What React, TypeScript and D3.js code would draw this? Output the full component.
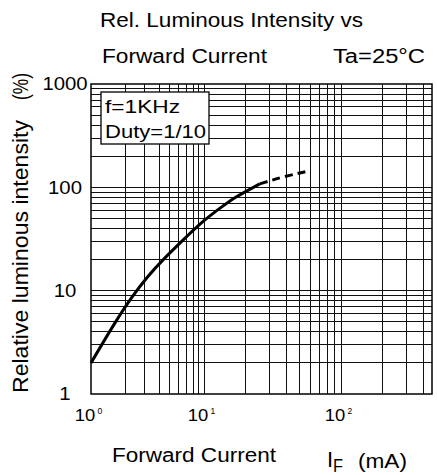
import React from 'react';
import * as d3 from 'd3';

// Relative luminous intensity (%) vs forward current (mA)
const currentSolid = [1, 1.63, 2.29, 3.21, 4.22, 6.79, 10, 14.2, 16.4, 22.9, 25.6];
const intensitySolid = [2, 4.94, 8.7, 14.0, 19.4, 32.2, 48.3, 68, 78.4, 100, 108];
const currentDashed = [25.6, 37.9, 59.4];
const intensityDashed = [108, 127, 145];

const xTickValues = [1, 10, 100];
const xTickExponents = ['0', '1', '2'];
const yTickValues = [1, 10, 100, 1000];
const yTickLabels = ['1', '10', '100', '1000'];
const noteLines = ['f=1KHz', 'Duty=1/10'];

const FONT = '"Liberation Sans", Arial, Helvetica, sans-serif';

const W = 437;
const H = 475;
const plot = { left: 91, top: 84, right: 432, bottom: 394 };

// the sheet's x decades are not even: the first one is squeezed
const xScale = d3
  .scaleLog()
  .domain([1, 10, 100, 461])
  .range([plot.left, 204, 341, plot.right]);

const yScale = d3.scaleLog().domain([1, 1000]).range([plot.bottom, plot.top]);

const decade = (d: number) => d3.range(1, 10).map((k) => k * d);
const xGrid = [...decade(1), ...decade(10), 100, 200, 300, 400].filter((v) => v > 1);
const yGrid = [...decade(1), ...decade(10), ...decade(100)].filter((v) => v > 1);

const line = d3
  .line<[number, number]>()
  .x((d) => xScale(d[0]))
  .y((d) => yScale(d[1]))
  .curve(d3.curveBasis);

const solidPath = line(currentSolid.map((c, i) => [c, intensitySolid[i]] as [number, number]));
const dashedPath = line(currentDashed.map((c, i) => [c, intensityDashed[i]] as [number, number]));

const Txt = ({ x, y, size, len, anchor = 'start', children }: any) => (
  <text
    x={x}
    y={y}
    fontSize={size}
    textAnchor={anchor}
    textLength={len}
    lengthAdjust="spacingAndGlyphs"
    fontFamily={FONT}
    fill="#000"
  >
    {children}
  </text>
);

const App = () => {
  return (
    <svg
      width={W}
      height={H}
      style={{ position: 'absolute', left: 0, top: 0, background: '#fff' }}
    >
      {/* titles */}
      <Txt x={100} y={27} size={19.5} len={263}>Rel. Luminous Intensity vs</Txt>
      <Txt x={102} y={63} size={19.5} len={165}>Forward Current</Txt>
      <Txt x={333} y={63} size={19.5} len={92}>Ta=25°C</Txt>

      {/* grid */}
      <g stroke="#111" strokeWidth={1} shapeRendering="crispEdges">
        {xGrid.map((v) => (
          <line key={'x' + v} x1={xScale(v)} x2={xScale(v)} y1={plot.top} y2={plot.bottom} />
        ))}
        {yGrid.map((v) => (
          <line key={'y' + v} x1={plot.left} x2={plot.right} y1={yScale(v)} y2={yScale(v)} />
        ))}
      </g>
      <rect
        x={plot.left}
        y={plot.top}
        width={plot.right - plot.left}
        height={plot.bottom - plot.top}
        fill="none"
        stroke="#000"
        strokeWidth={1.5}
      />

      {/* curve */}
      <path d={solidPath || ''} fill="none" stroke="#000" strokeWidth={3} />
      <path d={dashedPath || ''} fill="none" stroke="#000" strokeWidth={3} strokeDasharray="8,5" />

      {/* note box */}
      <rect x={101} y={92} width={108} height={52} fill="#fff" stroke="#000" strokeWidth={1.3} />
      <Txt x={105} y={113} size={19} len={75}>{noteLines[0]}</Txt>
      <Txt x={105} y={138} size={19} len={101}>{noteLines[1]}</Txt>

      {/* y ticks */}
      {yTickValues.map((v, i) => (
        <text
          key={'yt' + v}
          x={65}
          y={yScale(v) + 6.5}
          fontSize={18}
          fontFamily={FONT}
          textAnchor="middle"
          transform={`translate(65,0) scale(1.13,1) translate(-65,0)`}
        >
          {yTickLabels[i]}
        </text>
      ))}

      {/* x ticks */}
      {xTickValues.map((v, i) => (
        <g key={'xt' + v} transform={`translate(${xScale(v) - 6},420.5)`}>
          <text x={0} y={0} fontSize={16} fontFamily={FONT} textAnchor="middle" transform="scale(1.15,1)">
            10
          </text>
          <text x={12.5} y={-7} fontSize={8.5} fontFamily={FONT}>
            {xTickExponents[i]}
          </text>
        </g>
      ))}

      {/* axis titles */}
      <Txt x={112} y={462} size={20} len={164}>Forward Current</Txt>
      <Txt x={327} y={467} size={22}>I</Txt>
      <Txt x={333} y={472} size={18} len={10}>F</Txt>
      <Txt x={358} y={468} size={20} len={49}>(mA)</Txt>

      <g transform="translate(28,0) rotate(-90)" fontFamily={FONT} fontSize={22}>
        <text x={-393} y={0} textLength={273} lengthAdjust="spacingAndGlyphs">
          Relative luminous intensity
        </text>
        <text x={-73} y={0} textAnchor="end" textLength={27} lengthAdjust="spacingAndGlyphs">
          (%)
        </text>
      </g>
    </svg>
  );
};

export default App;
